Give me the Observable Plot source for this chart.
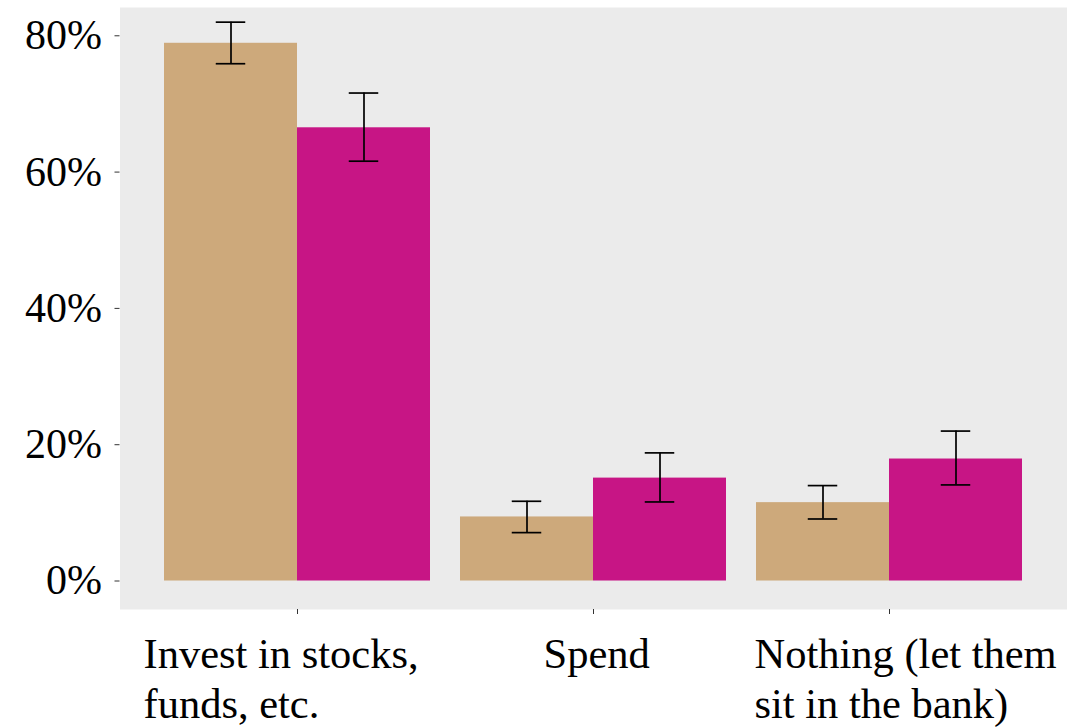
<!DOCTYPE html>
<html>
<head>
<meta charset="utf-8">
<script src="https://cdn.jsdelivr.net/npm/d3@7"></script>
<script src="https://cdn.jsdelivr.net/npm/@observablehq/plot@0.6"></script>
<style>
  html, body { margin: 0; padding: 0; background: #ffffff; }
</style>
</head>
<body>
<div id="chart"></div>
<script>
// What people would do with the money, by group (share of respondents, %)
const categories = [
  "Invest in stocks, funds, etc.",
  "Spend",
  "Nothing (let them sit in the bank)"
];
const categoryLabels = [
  "Invest in stocks,\nfunds, etc.",
  "Spend",
  "Nothing (let them\nsit in the bank)"
];
const groups = ["Group A", "Group B"];

const shareA = [78.9, 9.4, 11.5];
const lowA   = [75.9, 7.1, 9.1];
const highA  = [82.0, 11.7, 14.0];

const shareB = [66.5, 15.1, 17.9];
const lowB   = [61.6, 11.6, 14.1];
const highB  = [71.6, 18.8, 22.0];

const yTicks = [0, 20, 40, 60, 80];

// Long table: one row per category × group
const rows = categories.flatMap((category, i) => [
  { category, group: groups[0], share: shareA[i], low: lowA[i], high: highA[i] },
  { category, group: groups[1], share: shareB[i], low: lowB[i], high: highB[i] }
]);

// Left edge of each two-line axis label, relative to its tick
const labelDx = { [categories[0]]: -154, [categories[1]]: -50, [categories[2]]: -135 };

const serif = "'Liberation Serif', 'Times New Roman', Times, serif";
const capInset = 51.75;
const outerGap = 44.5; // panel extends past the first and last group

const chart = Plot.plot({
  width: 1089,
  height: 728,
  marginLeft: 118,
  marginRight: 21,
  marginTop: 7,
  marginBottom: 119,
  style: { fontFamily: serif, fontSize: "42px", color: "#000", background: "#ffffff" },
  fx: { domain: categories, paddingInner: 0.1, paddingOuter: 0.15, axis: null, label: null },
  x: { domain: groups, padding: 0, axis: null },
  y: { domain: [-4.18, 84.15], axis: null },
  color: { domain: groups, range: ["#CDA97B", "#C71585"] },
  marks: [
    // grey panel behind all three groups
    Plot.frame({ facet: "super", fill: "#EBEBEB", stroke: null, insetLeft: -outerGap, insetRight: -outerGap }),
    Plot.barY(rows, { fx: "category", x: "group", y1: 0, y2: "share", fill: "group" }),
    // error bars
    Plot.ruleX(rows, { fx: "category", x: "group", y1: "low", y2: "high", stroke: "#000", strokeWidth: 1.7 }),
    Plot.tickY(rows, { fx: "category", x: "group", y: "low", insetLeft: capInset, insetRight: capInset, stroke: "#000", strokeWidth: 1.7 }),
    Plot.tickY(rows, { fx: "category", x: "group", y: "high", insetLeft: capInset, insetRight: capInset, stroke: "#000", strokeWidth: 1.7 }),
    // y axis sits on the panel edge, left of the first group
    Plot.axisY({
      ticks: yTicks,
      tickFormat: d => `${d}%`,
      tickSize: 5,
      tickPadding: 13,
      dx: -outerGap,
      stroke: "#333",
      fill: "#000",
      fontSize: 42,
      label: null
    }),
    // short ticks under each group
    Plot.axisFx({ anchor: "bottom", tickSize: 5, tickFormat: () => "", stroke: "#333", label: null }),
    // category labels, lines left-aligned
    ...categories.map((c, i) => Plot.text([c], {
      fx: d => d,
      text: () => categoryLabels[i],
      frameAnchor: "bottom",
      textAnchor: "start",
      lineAnchor: "top",
      lineHeight: 1.18,
      dx: labelDx[c],
      dy: 23,
      fontSize: 42.5,
      fill: "#000"
    }))
  ]
});

document.getElementById("chart").appendChild(chart);
</script>
</body>
</html>
